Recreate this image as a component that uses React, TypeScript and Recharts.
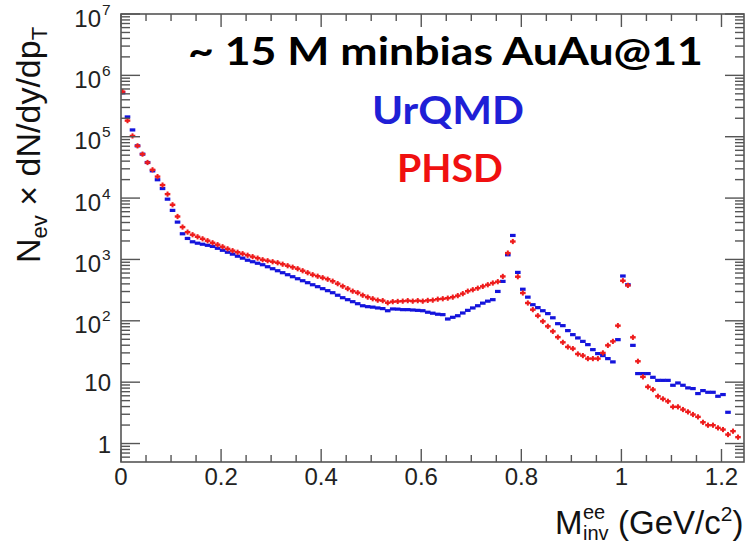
import { ScatterChart, Scatter, XAxis, YAxis } from "recharts"

// bin centres (GeV/c^2)
const masses = [
  0.003, 0.013, 0.023, 0.033, 0.043, 0.053, 0.063, 0.073, 0.083, 0.093,
  0.103, 0.113, 0.123, 0.133, 0.143, 0.153, 0.163, 0.173, 0.183, 0.193,
  0.203, 0.213, 0.223, 0.233, 0.243, 0.253, 0.263, 0.273, 0.283, 0.293,
  0.303, 0.313, 0.323, 0.333, 0.343, 0.353, 0.363, 0.373, 0.383, 0.393,
  0.403, 0.413, 0.423, 0.433, 0.443, 0.453, 0.463, 0.473, 0.483, 0.493,
  0.503, 0.513, 0.523, 0.533, 0.543, 0.553, 0.563, 0.573, 0.583, 0.593,
  0.603, 0.613, 0.623, 0.633, 0.643, 0.653, 0.663, 0.673, 0.683, 0.693,
  0.703, 0.713, 0.723, 0.733, 0.743, 0.753, 0.763, 0.773, 0.783, 0.793,
  0.803, 0.813, 0.823, 0.833, 0.843, 0.853, 0.863, 0.873, 0.883, 0.893,
  0.903, 0.913, 0.923, 0.933, 0.943, 0.953, 0.963, 0.973, 0.983, 0.993,
  1.003, 1.013, 1.023, 1.033, 1.043, 1.053, 1.063, 1.073, 1.083, 1.093,
  1.103, 1.113, 1.123, 1.133, 1.143, 1.153, 1.163, 1.173, 1.183, 1.193,
  1.203, 1.213, 1.223, 1.233,
]

const urqmd = [
  5.2e5, 2.1e5, 1.29e5, 7.1e4, 5.2e4, 3.8e4, 2.78e4, 1.99e4, 1.43e4, 9600,
  6300, 4060, 2620, 2200, 1940, 1840, 1770, 1700, 1630, 1520,
  1410, 1310, 1220, 1130, 1050, 971, 918, 867, 820, 761,
  706, 655, 608, 564, 523, 485, 450, 418, 387, 360,
  334, 310, 287, 261, 238, 221, 205, 190, 176, 170,
  167, 162, 158, 146, 156, 155, 152, 152, 150, 148,
  146, 138, 133, 128, 126, 107, 114, 121, 134, 148,
  162, 176, 194, 209, 221, 301, 439, 1190, 2460, 615,
  327, 243, 183, 164, 146, 131, 112, 89.8, 83.4, 69.2,
  59.5, 52.6, 46.2, 40.9, 33.9, 29.2, 27.1, 24.2, 21.4, 49.3,
  537, 387, 39.8, 13.8, 13.8, 13.8, 12.0, 10.7, 10.7, 10.7,
  8.9, 9.7, 8.9, 8.07, 7.86, 6.52, 7.29, 6.84, 6.84, 5.89,
  6.28, 3.23,
]

const phsd = [
  5.43e5, 1.83e5, 1.03e5, 7.1e4, 5.2e4, 3.8e4, 2.89e4, 2.24e4, 1.63e4, 1.16e4,
  7780, 5010, 3370, 2790, 2530, 2340, 2170, 2020, 1870, 1740,
  1610, 1490, 1390, 1310, 1240, 1170, 1110, 1050, 989, 953,
  918, 884, 836, 790, 747, 706, 655, 608, 564, 533,
  504, 476, 442, 403, 366, 334, 304, 287, 261, 243,
  229, 217, 213, 197, 205, 207, 209, 213, 209, 213,
  209, 215, 217, 225, 229, 234, 243, 257, 277, 304,
  321, 340, 364, 387, 413, 434, 529, 1270, 1960, 523,
  284, 195, 152, 121, 98, 81.3, 67.3, 54.2, 44.6, 37.5,
  35.2, 28.8, 27.1, 24.2, 24.2, 24.2, 30.0, 39.8, 46.2, 83.4,
  450, 378, 53.8, 21.9, 12.2, 8.38, 7.57, 5.89, 5.34, 4.88,
  3.96, 3.96, 3.58, 3.28, 2.97, 2.72, 2.22, 1.99, 1.99, 1.8,
  1.69, 1.4, 1.59, 1.27,
]

const xMajorTicks = [0, 0.2, 0.4, 0.6, 0.8, 1, 1.2]
const xMajorLabels = ["0", "0.2", "0.4", "0.6", "0.8", "1", "1.2"]
const xMinorTicks = [
  0.05, 0.1, 0.15, 0.25, 0.3, 0.35, 0.45, 0.5, 0.55, 0.65, 0.7, 0.75,
  0.85, 0.9, 0.95, 1.05, 1.1, 1.15,
]
const yMajorTicks = [1, 10, 100, 1e3, 1e4, 1e5, 1e6, 1e7]
const yMajorExp = [null, null, 2, 3, 4, 5, 6, 7]
const yMinorSteps = [2, 3, 4, 5, 6, 7, 8, 9]
const yLowMinor = [0.6, 0.7, 0.8, 0.9]

const xTicks = [...xMajorTicks, ...xMinorTicks].sort((a, b) => a - b)
const yTicks = [
  ...yLowMinor,
  ...yMajorTicks,
  ...yMajorTicks.slice(0, 7).flatMap((d) => yMinorSteps.map((s) => d * s)),
].sort((a, b) => a - b)

const urqmdData = urqmd.map((v, i) => ({ m: masses[i], v }))
const phsdData = phsd.map((v, i) => ({ m: masses[i], v }))

const W = 747
const H = 544
const LEFT = 121
const TOP = 14
const RIGHT = 744
const BOTTOM = 462
const AXIS = "#555"
const BLUE = "#1414dc"
const RED = "#ee1c1c"
const FONT = "'Liberation Sans', Arial, Helvetica, sans-serif"
const SLIDE_FONT = "Lato, 'Open Sans', sans-serif"

function XTick({ x, y, payload }: any) {
  const idx = xMajorTicks.indexOf(payload.value)
  const len = idx >= 0 ? 13 : 7
  return (
    <g>
      <line x1={x} x2={x} y1={y} y2={y - len} stroke={AXIS} strokeWidth={1.4} />
      <line x1={x} x2={x} y1={TOP} y2={TOP + len} stroke={AXIS} strokeWidth={1.4} />
      {idx >= 0 && (
        <text x={x} y={y + 23} textAnchor="middle" fontSize={24} fontFamily={FONT} fill="#222">
          {xMajorLabels[idx]}
        </text>
      )}
    </g>
  )
}

function YTick({ x, y, payload }: any) {
  const idx = yMajorTicks.indexOf(payload.value)
  const len = idx >= 0 ? 19 : 9
  const exp = idx >= 0 ? yMajorExp[idx] : null
  return (
    <g>
      <line x1={x} x2={x + len} y1={y} y2={y} stroke={AXIS} strokeWidth={1.4} />
      <line x1={RIGHT} x2={RIGHT - len} y1={y} y2={y} stroke={AXIS} strokeWidth={1.4} />
      {idx >= 0 && exp === null && (
        <text x={x - 10} y={y + 9} textAnchor="end" fontSize={24} fontFamily={FONT} fill="#222">
          {payload.value === 1 ? "1" : "10"}
        </text>
      )}
      {exp !== null && (
        <g fontFamily={FONT} fill="#222">
          <text x={x - 20} y={y + 12.5} textAnchor="end" fontSize={24}>10</text>
          <text x={x - 19} y={y + 0.5} textAnchor="start" fontSize={15.5}>{exp}</text>
        </g>
      )}
    </g>
  )
}

const BlueMark = (p: any) => (
  <rect x={p.cx - 2.8} y={p.cy - 1.6} width={5.6} height={3.2} fill={BLUE} />
)

const RedMark = (p: any) => (
  <g fill={RED}>
    <rect x={p.cx - 2.8} y={p.cy - 1.2} width={5.6} height={2.4} />
    <rect x={p.cx - 1} y={p.cy - 2.6} width={2} height={5.2} />
  </g>
)

export default function App() {
  return (
    <div style={{ position: "absolute", left: 0, top: 0, width: W, height: H, background: "#fff" }}>
      <ScatterChart width={W} height={H} margin={{ top: TOP, right: W - RIGHT, bottom: 0, left: 0 }}>
        <XAxis
          dataKey="m"
          type="number"
          domain={[0, 1.245]}
          allowDataOverflow
          ticks={xTicks}
          interval={0}
          tick={<XTick />}
          tickLine={false}
          axisLine={false}
          tickSize={0}
          tickMargin={0}
          height={H - BOTTOM}
        />
        <YAxis
          dataKey="v"
          type="number"
          scale="log"
          domain={[0.5, 1e7]}
          allowDataOverflow
          ticks={yTicks}
          interval={0}
          tick={<YTick />}
          tickLine={false}
          axisLine={false}
          tickSize={0}
          tickMargin={0}
          width={LEFT}
        />
        <Scatter name="UrQMD" data={urqmdData} shape={BlueMark} isAnimationActive={false} />
        <Scatter name="PHSD" data={phsdData} shape={RedMark} isAnimationActive={false} />
      </ScatterChart>
      <svg width={W} height={H} style={{ position: "absolute", left: 0, top: 0, pointerEvents: "none" }}>
        <rect x={LEFT} y={TOP} width={RIGHT - LEFT} height={BOTTOM - TOP} fill="none" stroke={AXIS} strokeWidth={1.6} />
        <text fontFamily={FONT} fontSize={34} fill="#111" transform="rotate(-90)" x={-263} y={40}>
          N<tspan dy={7} fontSize={22}>ev</tspan>
          <tspan dy={-7}> × dN/dy/dp</tspan>
          <tspan dy={7} fontSize={22}>T</tspan>
        </text>
        <g fontFamily={FONT} fill="#111">
          <text fontSize={33} x={555} y={534}>M</text>
          <text fontSize={20} x={583} y={519}>ee</text>
          <text fontSize={20} x={583} y={540}>inv</text>
          <text fontSize={33} x={618} y={534}>
            (GeV/c<tspan dy={-13} fontSize={21}>2</tspan>
            <tspan dy={13}>)</tspan>
          </text>
        </g>
        <text x={445.5} y={65} textAnchor="middle" fontFamily={SLIDE_FONT} fontWeight={700} fontSize={39} fill="#000" textLength={515} lengthAdjust="spacingAndGlyphs">
          ~ 15 M minbias AuAu@11
        </text>
        <text x={448} y={123.5} textAnchor="middle" fontFamily={SLIDE_FONT} fontWeight={700} fontSize={39} fill="#1f1fd6" textLength={152} lengthAdjust="spacingAndGlyphs">
          UrQMD
        </text>
        <text x={450} y={182} textAnchor="middle" fontFamily={SLIDE_FONT} fontWeight={700} fontSize={39} fill="#f01010" textLength={106} lengthAdjust="spacingAndGlyphs">
          PHSD
        </text>
      </svg>
    </div>
  )
}
